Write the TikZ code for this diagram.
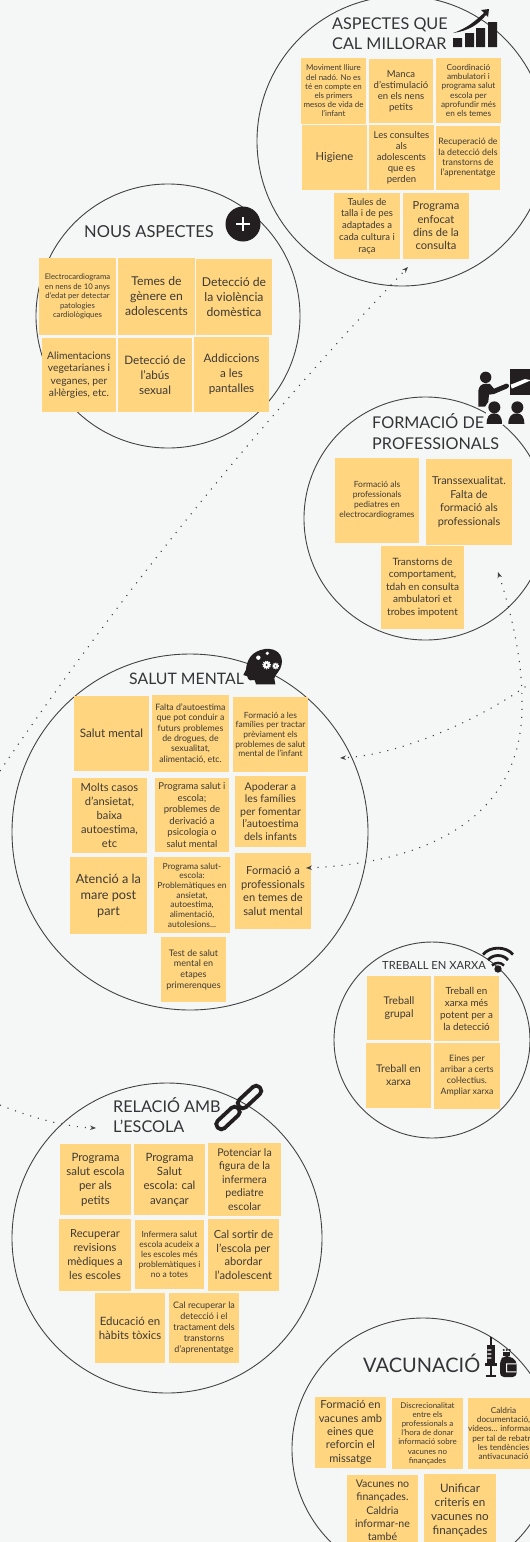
\documentclass[tikz,border=0pt]{standalone}
\usepackage{fontspec}
\setmainfont{Lato}
\usetikzlibrary{arrows.meta}
\definecolor{bgc}{HTML}{F5F7F7}
\definecolor{notec}{HTML}{FFD580}
\definecolor{inkc}{HTML}{3E3A34}
\definecolor{titlec}{HTML}{343436}
\definecolor{iconc}{HTML}{231F20}
\tikzset{
  ring/.style={circle,draw=iconc!85,line width=0.9pt,inner sep=0pt},
  notebox/.style={fill=notec,text=inkc,inner sep=0pt,align=center},
  titletext/.style={text=titlec,inner sep=0pt,anchor=west,align=left},
  dotline/.style={draw=iconc!85,line width=1.1pt,dash pattern=on 1.1pt off 6.9pt},
  tip/.style={-{Stealth[length=6pt,width=4.5pt]}},
  tips/.style={{Stealth[length=6pt,width=4.5pt]}-{Stealth[length=6pt,width=4.5pt]}}
}
\newcommand{\sticky}[8]{%
  \pgfmathsetmacro{\fsz}{#6*1.06}%
  \node[notebox,font={\fontsize{\fsz}{#7}\selectfont},minimum width={(#4-#2)*1pt},minimum height={(#5-#3)*1pt}] (#1) at ({(#2+#4)/2},{(#3+#5)/2})
    {#8};}
\begin{document}
\begin{tikzpicture}[x=1pt,y=-1pt]
\clip (0,0) rectangle (530,1542);
\fill[bgc] (0,0) rectangle (530,1542);

% circles
\node[ring,minimum size=290pt] (c1) at (402,141) {};
\node[ring,minimum size=264pt] (c2) at (168,316) {};
\node[ring,minimum size=243pt] (c3) at (425.5,518.5) {};
\node[ring,minimum size=356pt] (c4) at (190,832) {};
\node[ring,minimum size=196pt] (c5) at (432,1040) {};
\node[ring,minimum size=310pt] (c6) at (167,1238) {};
\node[ring,minimum size=262pt] (c7) at (423,1449) {};

% titles
\node[titletext,font={\fontsize{16.2}{20}\selectfont}] (t1) at (332,33.5) {ASPECTES QUE\\CAL MILLORAR};
\node[titletext,font={\fontsize{16.5}{20}\selectfont}] (t2) at (84,232) {NOUS ASPECTES};
\node[titletext,font={\fontsize{16.2}{21}\selectfont}] (t3) at (372,432) {FORMACIÓ DE\\PROFESSIONALS};
\node[titletext,font={\fontsize{15.8}{20}\selectfont}] (t4) at (129,679) {SALUT MENTAL};
\node[titletext,font={\fontsize{11.2}{14}\selectfont}] (t5) at (382,965) {TREBALL EN XARXA};
\node[titletext,font={\fontsize{16.2}{20}\selectfont}] (t6) at (113,1115.5) {RELACIÓ AMB\\L'ESCOLA};
\node[titletext,font={\fontsize{20}{24}\selectfont}] (t7) at (363,1363) {VACUNACIÓ};

% aspectes
\sticky{n11}{301}{58}{366}{124}{7.5}{9.2}{Moviment lliure\\del nadó. No es\\té en compte en\\els primers\\mesos de vida de\\l'infant}
\sticky{n12}{369}{59}{433}{123}{9}{11}{Manca\\d'estimulació\\en els nens\\petits}
\sticky{n13}{436}{58}{501}{123}{7.8}{9.3}{Coordinació\\ambulatori i\\programa salut\\escola per\\aprofundir més\\en els temes}
\sticky{n14}{302}{125}{367}{190}{10.5}{13}{Higiene}
\sticky{n15}{369}{125}{434}{190}{9}{11}{Les consultes\\als\\adolescents\\que  es\\perden}
\sticky{n16}{436}{126}{500}{190}{8.3}{10.3}{Recuperació de\\la detecció dels\\transtorns de\\l'aprenentatge}
\sticky{n17}{334}{193}{400}{259}{9}{11.7}{Taules de\\talla i de pes\\adaptades a\\cada cultura i\\raça}
\sticky{n18}{403}{193}{469}{259}{10.5}{13.3}{Programa\\enfocat\\dins de la\\consulta}

% nous aspectes
\sticky{n21}{39}{258}{116}{335}{7.3}{9.4}{Electrocardiograma\\en nens de 10 anys\\d'edat per detectar\\patologies\\cardiològiques}
\sticky{n22}{118}{258}{195}{335}{11.5}{15}{Temes de\\gènere en\\adolescents}
\sticky{n23}{196}{259}{272}{335}{11.5}{15}{Detecció de\\la violència\\domèstica}
\sticky{n24}{42}{338}{116}{412}{9.7}{12.4}{Alimentacions\\vegetarianes i\\veganes, per\\al·lèrgies, etc.}
\sticky{n25}{118}{338}{192}{412}{11}{15}{Detecció de\\l'abús\\sexual}
\sticky{n26}{194}{337}{269}{412}{11}{15}{Addiccions\\a les\\pantalles}

% formacio
\sticky{n31}{335}{458}{419}{543}{8}{10}{Formació als\\professionals\\pediatres en\\electrocardiogrames}
\sticky{n32}{426}{459}{512}{545}{10.3}{13.7}{Transsexualitat.\\Falta de\\formació als\\professionals}
\sticky{n33}{381}{546}{464}{629}{9.5}{12.4}{Transtorns de\\comportament,\\tdah en consulta\\ambulatori et\\trobes impotent}

% salut mental
\sticky{n41}{74}{696}{149}{771}{11}{14}{Salut mental}
\sticky{n42}{152}{695}{229}{772}{8.3}{10.3}{Falta  d'autoestima\\que pot conduir a\\futurs problemes\\de drogues, de\\sexualitat,\\alimentació, etc.}
\sticky{n43}{233}{697}{308}{772}{8}{9.7}{Formació a les\\famílies per tractar\\prèviament els\\problemes de salut\\mental de l'infant}
\sticky{n44}{72}{778}{147}{853}{10.5}{14}{Molts casos\\d'ansietat,\\baixa\\autoestima,\\etc}
\sticky{n45}{155}{778}{229}{852}{9}{11.5}{Programa salut i\\escola;\\problemes de\\derivació a\\psicologia o\\salut mental}
\sticky{n46}{235}{776}{306}{847}{10}{12.4}{Apoderar a\\les famílies\\per fomentar\\l'autoestima\\dels infants}
\sticky{n47}{70}{857}{147}{934}{12}{16}{Atenció a la\\mare post\\part}
\sticky{n48}{154}{857}{230}{933}{8}{9.7}{Programa salut-\\escola:\\Problemàtiques en\\ansietat,\\autoestima,\\alimentació,\\autolesions...}
\sticky{n49}{235}{853}{311}{929}{10.5}{13.4}{Formació a\\professionals\\en temes de\\salut mental}
\sticky{n410}{161}{937}{226}{1002}{8.5}{10.7}{Test de salut\\mental en\\etapes\\primerenques}

% treball
\sticky{n51}{367}{976}{431}{1040}{10}{13}{Treball\\grupal}
\sticky{n52}{434}{976}{499}{1041}{9.3}{12}{Treball en\\xarxa  més\\potent per a\\la detecció}
\sticky{n53}{366}{1043}{431}{1108}{10}{13}{Treball en\\xarxa}
\sticky{n54}{434}{1043}{500}{1109}{8.3}{11}{Eines per\\arribar a certs\\col·lectius.\\Ampliar xarxa}

% relacio
\sticky{n61}{60}{1144}{131}{1215}{10.8}{14.3}{Programa\\salut escola\\per als\\petits}
\sticky{n62}{134}{1144}{205}{1215}{10.8}{14.3}{Programa\\Salut\\escola:  cal\\avançar}
\sticky{n63}{208}{1143}{281}{1216}{10}{13.4}{Potenciar la\\figura de la\\infermera\\pediatre\\escolar}
\sticky{n64}{59}{1219}{131}{1291}{10.5}{14}{Recuperar\\revisions\\mèdiques a\\les escoles}
\sticky{n65}{135}{1220}{204}{1289}{8}{10}{Infermera salut\\escola acudeix a\\les escoles més\\problemàtiques i\\no a totes}
\sticky{n66}{208}{1219}{279}{1291}{10.5}{13.7}{Cal sortir de\\l'escola per\\abordar\\l'adolescent}
\sticky{n67}{95}{1293}{165}{1363}{10.8}{14}{Educació en\\hàbits tòxics}
\sticky{n68}{169}{1293}{239}{1363}{8.5}{11}{Cal recuperar la\\detecció i el\\tractament dels\\transtorns\\d'aprenentatge}

% vacunacio
\sticky{n71}{315}{1397}{386}{1468}{10.5}{13.3}{Formació en\\vacunes amb\\eines que\\reforcin el\\missatge}
\sticky{n72}{392}{1398}{463}{1469}{7.5}{9.2}{Discrecionalitat\\entre els\\professionals a\\l'hora de donar\\informació sobre\\vacunes no\\finançades}
\sticky{n73}{468}{1398}{539}{1469}{7.8}{9.3}{Caldria\\documentació,\\vídeos... informació\\per tal de rebatre\\les tendències\\antivacunació}
\sticky{n74}{347}{1475}{418}{1546}{10}{13.3}{Vacunes no\\finançades.\\Caldria\\informar-ne\\també}
\sticky{n75}{424}{1474}{496}{1546}{11}{14}{Unificar\\criteris en\\vacunes no\\finançades}

% connectors
\coordinate (a0) at (0,771);
\coordinate (a1) at (408,267);
\coordinate (b0) at (532,682);
\coordinate (b1) at (340,758);
\coordinate (d0) at (498,572);
\coordinate (d1) at (522,700);
\coordinate (d2) at (306,868);
\coordinate (e0) at (0,1105);
\coordinate (e1) at (96,1128);
\draw[dotline,tip] (a0) .. controls (130,580) and (270,412) .. (a1);
\draw[dotline,tip] (b0) .. controls (480,720) and (400,755) .. (b1);
\draw[dotline,tips] (d0) .. controls (512,615) and (522,660) .. (d1) .. controls (525,810) and (440,862) .. (d2);
\draw[dotline,tip] (e0) .. controls (30,1117) and (65,1127) .. (e1);

% icon: bars + arrow
\fill[iconc] (453,38) rectangle (462,47) (465,33) rectangle (474,47) (476,28) rectangle (485,47) (488,22) rectangle (497,47);
\fill[iconc] (453,33) .. controls (468,28) and (476,20) .. (484,13) -- (481,10) -- (489,9) -- (488,17) -- (486,15) .. controls (478,25) and (468,31) .. (453,33) -- cycle;

% icon: plus
\node[circle,fill=iconc,minimum size=35pt,inner sep=0pt] (plusicon) at (243,224) {};
\draw[white,line width=1.2pt] (236,224) -- (250,224) (243,217) -- (243,231);

% icon: teacher
\begin{scope}[shift={(470,360)},x=0.3333pt,y=-0.3333pt]
\fill[iconc] (120,27) rectangle (180,105);
\fill[white!90!bgc] (122,74) -- (165,57) -- (180,60) -- (180,62) -- (125,86) -- cycle;
\fill[iconc] (47,52) circle [radius=5.7pt];
\fill[iconc] (25,92) .. controls (27,78) and (35,71) .. (48,71) -- (60,72) -- (72,86) -- (108,71) .. controls (118,70) and (120,80) .. (112,85) -- (72,102) -- (57,104) -- (55,125) -- (45,140) -- (25,140) -- cycle;
\fill[bgc] (48,150) rectangle (98,195);
\fill[iconc] (73,142) circle [radius=6pt];
\fill[iconc] (142,142) circle [radius=6pt];
\fill[iconc] (50,192) .. controls (50,170) and (58,160) .. (72,160) .. controls (88,160) and (96,170) .. (96,192) -- cycle;
\fill[iconc] (115,192) .. controls (115,170) and (125,160) .. (140,160) .. controls (155,160) and (163,170) .. (163,192) -- cycle;
\end{scope}

% icon: head
\begin{scope}[shift={(240,645)},x=0.3333pt,y=-0.3333pt]
\fill[iconc] (75,12) .. controls (110,8) and (130,30) .. (125,58) .. controls (122,78) and (105,88) .. (103,100) -- (106,118) -- (48,118) -- (44,105) -- (30,106) .. controls (22,104) and (24,98) .. (22,94) -- (10,90) -- (18,74) .. controls (20,45) and (35,18) .. (75,12) -- cycle;
\fill[white] (55,38) circle [radius=2.2pt];
\fill[white] (82,25) circle [radius=1.8pt];
\fill[white] (80,60) circle [radius=3.6pt];
\fill[white] (107,63) circle [radius=2.8pt];
\draw[white,line width=.9pt,dash pattern=on 1.1pt off 1.1pt] (80,60) circle [radius=4pt];
\draw[white,line width=.7pt,dash pattern=on 1pt off 1pt] (107,63) circle [radius=3.1pt];
\fill[iconc] (80,60) circle [radius=1pt];
\fill[iconc] (107,63) circle [radius=.7pt];
\end{scope}

% icon: wifi
\fill[iconc] (498,969) circle [radius=3.7pt];
\draw[iconc,line width=2.8pt] (483,954.5) .. controls (490,946) and (506,946) .. (513,954.5);
\draw[iconc,line width=2.8pt] (488,960) .. controls (493,954) and (503,954) .. (508,960);
\draw[iconc,line width=2.5pt] (492,965.5) .. controls (495,962) and (501,962) .. (504,965.5);

% icon: link
\begin{scope}[shift={(249.5,1097)},rotate=43]
\draw[iconc,line width=3.8pt,rounded corners=4.5pt] (-14,-5) rectangle (14,5);
\end{scope}
\begin{scope}[shift={(228,1118)},rotate=43]
\draw[iconc,line width=3.8pt,rounded corners=4.5pt] (-14,-5) rectangle (14,5);
\end{scope}

% icon: syringe and bottle
\begin{scope}[shift={(480,1330)},x=0.3333pt,y=-0.3333pt]
\fill[iconc] (31,21) rectangle (35,45);
\fill[iconc] (22,45) rectangle (44,100);
\fill[white] (22,58) rectangle (34,62) (22,70) rectangle (34,74) (22,82) rectangle (34,86);
\fill[iconc] (15,100) rectangle (51,108);
\fill[iconc] (30,108) rectangle (36,135);
\fill[iconc] (17,135) rectangle (49,141);
\fill[iconc] (71,60) circle [radius=1.1pt] (80,60) circle [radius=1.1pt] (89,60) circle [radius=1.1pt];
\fill[iconc] (70,66) rectangle (90,78);
\fill[iconc,rounded corners=4pt] (60,141) -- (60,90) -- (72,78) -- (88,78) -- (110,92) -- (110,141) -- cycle;
\fill[white] (78,100) rectangle (110,103) (78,100) rectangle (81,127) (78,124) rectangle (110,127);
\end{scope}
\end{tikzpicture}
\end{document}
